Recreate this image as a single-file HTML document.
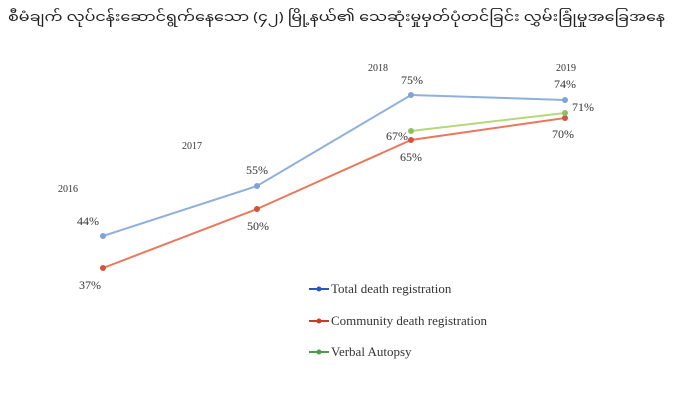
<!DOCTYPE html>
<html><head><meta charset="utf-8"><style>
body{margin:0;background:#fff;width:675px;height:403px;overflow:hidden}
</style></head><body>
<svg width="675" height="403" xmlns="http://www.w3.org/2000/svg" font-family="Liberation Serif, serif" fill="#333">
<text x="8" y="21" font-size="13" textLength="657" lengthAdjust="spacingAndGlyphs" font-family="Noto Sans Myanmar, Padauk, Myanmar Text, sans-serif" fill="#222">စီမံချက် လုပ်ငန်းဆောင်ရွက်နေသော (၄၂) မြို့နယ်၏ သေဆုံးမှုမှတ်ပုံတင်ခြင်း လွှမ်းခြုံမှုအခြေအနေ</text>
<g font-size="10">
<text x="58" y="192">2016</text><text x="182" y="149">2017</text>
<text x="368" y="71">2018</text><text x="556" y="71">2019</text>
</g>
<polyline points="103,236 257,186 411,95 565,100" fill="none" stroke="#8fb0dc" stroke-width="2"/>
<polyline points="103,268 257,209 411,140 565,118" fill="none" stroke="#e9785e" stroke-width="2"/>
<polyline points="411,131 565,113" fill="none" stroke="#b7d77a" stroke-width="2"/>
<g fill="#7fa3d6"><circle cx="103" cy="236" r="3"/><circle cx="257" cy="186" r="3"/><circle cx="411" cy="95" r="3"/><circle cx="565" cy="100" r="3"/></g>
<g fill="#d5533a"><circle cx="103" cy="268" r="3"/><circle cx="257" cy="209" r="3"/><circle cx="411" cy="140" r="3"/><circle cx="565" cy="118" r="3"/></g>
<g fill="#8cc063"><circle cx="411" cy="131" r="3"/><circle cx="565" cy="113" r="3"/></g>
<g font-size="12" text-anchor="middle">
<text x="88" y="225">44%</text><text x="90" y="289">37%</text>
<text x="257" y="174">55%</text><text x="258" y="230">50%</text>
<text x="412" y="84">75%</text><text x="397" y="140">67%</text><text x="411" y="161">65%</text>
<text x="565" y="88">74%</text><text x="583" y="111">71%</text><text x="563" y="138">70%</text>
</g>
<g font-size="13">
<line x1="309" y1="289" x2="329" y2="289" stroke="#2f55b8" stroke-width="2"/><circle cx="319" cy="289" r="2.5" fill="#2f55b8"/>
<text x="331" y="293">Total death registration</text>
<line x1="309" y1="321" x2="329" y2="321" stroke="#c93a2a" stroke-width="2"/><circle cx="319" cy="321" r="2.5" fill="#c93a2a"/>
<text x="331" y="325">Community death registration</text>
<line x1="309" y1="352" x2="329" y2="352" stroke="#4f9a4a" stroke-width="2"/><circle cx="319" cy="352" r="2.5" fill="#4f9a4a"/>
<text x="331" y="356">Verbal Autopsy</text>
</g>
</svg>
</body></html>
